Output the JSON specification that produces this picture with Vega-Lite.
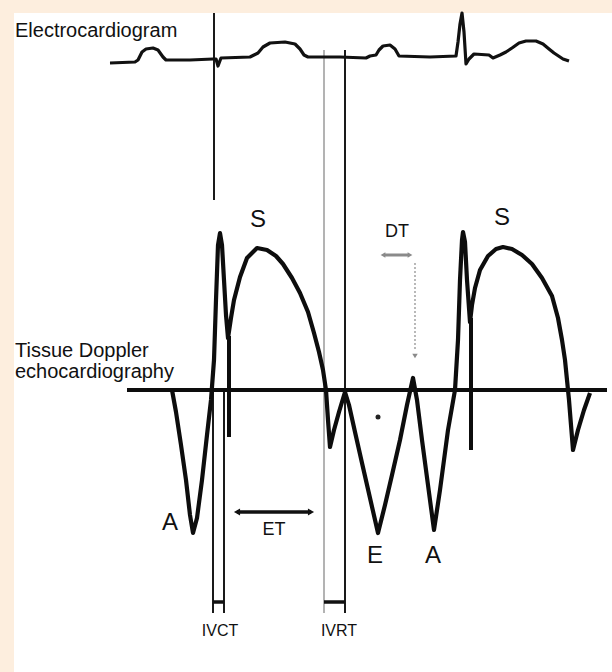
{
  "$schema": "https://vega.github.io/schema/vega-lite/v6.json",
  "width": 598,
  "height": 659,
  "autosize": {"type": "none"},
  "padding": {"left": 14, "top": 13, "right": 0, "bottom": 0},
  "background": "#fdeede",
  "config": {"view": {"stroke": null, "fill": "#ffffff"}},
  "datasets": {
    "ecg": [
      {"i": 1, "x": 110, "y": 63}, {"i": 2, "x": 135, "y": 62}, {"i": 3, "x": 138, "y": 60}, {"i": 4, "x": 142, "y": 52},
      {"i": 5, "x": 146, "y": 49}, {"i": 6, "x": 153, "y": 48}, {"i": 7, "x": 158, "y": 50}, {"i": 8, "x": 163, "y": 57},
      {"i": 9, "x": 166, "y": 60}, {"i": 10, "x": 190, "y": 60}, {"i": 11, "x": 213, "y": 59}, {"i": 12, "x": 216, "y": 59},
      {"i": 13, "x": 218, "y": 66}, {"i": 14, "x": 221, "y": 58}, {"i": 15, "x": 250, "y": 57}, {"i": 16, "x": 254, "y": 55},
      {"i": 17, "x": 258, "y": 53}, {"i": 18, "x": 263, "y": 47}, {"i": 19, "x": 270, "y": 43}, {"i": 20, "x": 285, "y": 42},
      {"i": 21, "x": 295, "y": 44}, {"i": 22, "x": 300, "y": 49}, {"i": 23, "x": 304, "y": 55}, {"i": 24, "x": 308, "y": 57},
      {"i": 25, "x": 340, "y": 57}, {"i": 26, "x": 366, "y": 58}, {"i": 27, "x": 370, "y": 56}, {"i": 28, "x": 376, "y": 55},
      {"i": 29, "x": 379, "y": 50}, {"i": 30, "x": 383, "y": 46}, {"i": 31, "x": 390, "y": 45}, {"i": 32, "x": 395, "y": 49},
      {"i": 33, "x": 399, "y": 56}, {"i": 34, "x": 430, "y": 57}, {"i": 35, "x": 456, "y": 56}, {"i": 36, "x": 458, "y": 42},
      {"i": 37, "x": 460, "y": 24}, {"i": 38, "x": 462, "y": 13}, {"i": 39, "x": 464, "y": 32}, {"i": 40, "x": 466, "y": 64},
      {"i": 41, "x": 469, "y": 59}, {"i": 42, "x": 474, "y": 54}, {"i": 43, "x": 489, "y": 55}, {"i": 44, "x": 493, "y": 58},
      {"i": 45, "x": 500, "y": 55}, {"i": 46, "x": 506, "y": 52}, {"i": 47, "x": 512, "y": 48}, {"i": 48, "x": 519, "y": 43},
      {"i": 49, "x": 526, "y": 41}, {"i": 50, "x": 536, "y": 41}, {"i": 51, "x": 543, "y": 44}, {"i": 52, "x": 549, "y": 49},
      {"i": 53, "x": 554, "y": 53}, {"i": 54, "x": 563, "y": 59}, {"i": 55, "x": 569, "y": 61}
    ],
    "doppler": [
      {"i": 1, "x": 172, "y": 390}, {"i": 2, "x": 176, "y": 412}, {"i": 3, "x": 181, "y": 445}, {"i": 4, "x": 186, "y": 480},
      {"i": 5, "x": 190, "y": 515}, {"i": 6, "x": 193, "y": 533}, {"i": 7, "x": 197, "y": 518}, {"i": 8, "x": 202, "y": 480},
      {"i": 9, "x": 207, "y": 435}, {"i": 10, "x": 211, "y": 400}, {"i": 11, "x": 214, "y": 360}, {"i": 12, "x": 216, "y": 300},
      {"i": 13, "x": 218, "y": 245}, {"i": 14, "x": 220, "y": 233}, {"i": 15, "x": 222, "y": 245}, {"i": 16, "x": 224, "y": 280},
      {"i": 17, "x": 226, "y": 315}, {"i": 18, "x": 228, "y": 338}, {"i": 19, "x": 231, "y": 318}, {"i": 20, "x": 234, "y": 300},
      {"i": 21, "x": 240, "y": 277}, {"i": 22, "x": 247, "y": 258}, {"i": 23, "x": 257, "y": 248}, {"i": 24, "x": 267, "y": 250},
      {"i": 25, "x": 276, "y": 256}, {"i": 26, "x": 283, "y": 264}, {"i": 27, "x": 292, "y": 278}, {"i": 28, "x": 300, "y": 293},
      {"i": 29, "x": 308, "y": 312}, {"i": 30, "x": 314, "y": 333}, {"i": 31, "x": 319, "y": 352}, {"i": 32, "x": 323, "y": 370},
      {"i": 33, "x": 326, "y": 390}, {"i": 34, "x": 328, "y": 420}, {"i": 35, "x": 330, "y": 447}, {"i": 36, "x": 334, "y": 430},
      {"i": 37, "x": 339, "y": 412}, {"i": 38, "x": 345, "y": 392}, {"i": 39, "x": 349, "y": 405}, {"i": 40, "x": 355, "y": 432},
      {"i": 41, "x": 362, "y": 463}, {"i": 42, "x": 370, "y": 498}, {"i": 43, "x": 378, "y": 533}, {"i": 44, "x": 385, "y": 505},
      {"i": 45, "x": 392, "y": 475}, {"i": 46, "x": 400, "y": 440}, {"i": 47, "x": 407, "y": 405}, {"i": 48, "x": 413, "y": 378},
      {"i": 49, "x": 417, "y": 400}, {"i": 50, "x": 422, "y": 440}, {"i": 51, "x": 428, "y": 485}, {"i": 52, "x": 434, "y": 530},
      {"i": 53, "x": 440, "y": 490}, {"i": 54, "x": 448, "y": 430}, {"i": 55, "x": 455, "y": 390}, {"i": 56, "x": 458, "y": 340},
      {"i": 57, "x": 460, "y": 280}, {"i": 58, "x": 462, "y": 240}, {"i": 59, "x": 463, "y": 232}, {"i": 60, "x": 465, "y": 242},
      {"i": 61, "x": 467, "y": 280}, {"i": 62, "x": 470, "y": 322}, {"i": 63, "x": 472, "y": 305}, {"i": 64, "x": 475, "y": 288},
      {"i": 65, "x": 480, "y": 270}, {"i": 66, "x": 488, "y": 256}, {"i": 67, "x": 496, "y": 249}, {"i": 68, "x": 503, "y": 247},
      {"i": 69, "x": 512, "y": 249}, {"i": 70, "x": 522, "y": 255}, {"i": 71, "x": 532, "y": 264}, {"i": 72, "x": 542, "y": 278},
      {"i": 73, "x": 552, "y": 296}, {"i": 74, "x": 558, "y": 318}, {"i": 75, "x": 562, "y": 340}, {"i": 76, "x": 565, "y": 360},
      {"i": 77, "x": 567, "y": 380}, {"i": 78, "x": 569, "y": 400}, {"i": 79, "x": 571, "y": 425}, {"i": 80, "x": 573, "y": 450},
      {"i": 81, "x": 578, "y": 430}, {"i": 82, "x": 584, "y": 410}, {"i": 83, "x": 590, "y": 393}
    ],
    "segments": [
      {"kind": "marker", "x": 214, "y": 13, "x2": 214, "y2": 200},
      {"kind": "marker", "x": 213, "y": 390, "x2": 213, "y2": 613},
      {"kind": "marker", "x": 224, "y": 390, "x2": 224, "y2": 613},
      {"kind": "bar", "x": 213, "y": 602, "x2": 224, "y2": 602},
      {"kind": "faint", "x": 324, "y": 50, "x2": 324, "y2": 613},
      {"kind": "marker", "x": 345, "y": 50, "x2": 345, "y2": 613},
      {"kind": "bar", "x": 324, "y": 602, "x2": 345, "y2": 602},
      {"kind": "stroke", "x": 229, "y": 336, "x2": 229, "y2": 437},
      {"kind": "stroke", "x": 471, "y": 318, "x2": 471, "y2": 450},
      {"kind": "baseline", "x": 127, "y": 390, "x2": 607, "y2": 390},
      {"kind": "ET", "x": 237, "y": 512, "x2": 311, "y2": 512},
      {"kind": "DT", "x": 384, "y": 255, "x2": 409, "y2": 255},
      {"kind": "DTpointer", "x": 415, "y": 263, "x2": 415, "y2": 350}
    ],
    "heads": [
      {"arrow": "ET", "dir": "left", "x": 237, "y": 512},
      {"arrow": "ET", "dir": "right", "x": 311, "y": 512},
      {"arrow": "DT", "dir": "left", "x": 383, "y": 255},
      {"arrow": "DT", "dir": "right", "x": 410, "y": 255},
      {"arrow": "DTpointer", "dir": "down", "x": 415, "y": 356},
      {"arrow": "speck", "dir": "dot", "x": 378, "y": 417}
    ],
    "labels": [
      {"role": "title", "text": "Electrocardiogram", "x": 15, "y": 31},
      {"role": "title", "text": "Tissue Doppler", "x": 15, "y": 351},
      {"role": "title", "text": "echocardiography", "x": 15, "y": 372},
      {"role": "wave", "text": "S", "x": 258, "y": 220},
      {"role": "wave", "text": "S", "x": 502, "y": 218},
      {"role": "wave", "text": "A", "x": 170, "y": 523},
      {"role": "wave", "text": "E", "x": 375, "y": 556},
      {"role": "wave", "text": "A", "x": 433, "y": 556},
      {"role": "interval", "text": "DT", "x": 397, "y": 232},
      {"role": "interval", "text": "ET", "x": 274, "y": 530},
      {"role": "bracket", "text": "IVCT", "x": 220, "y": 631},
      {"role": "bracket", "text": "IVRT", "x": 339, "y": 631}
    ]
  },
  "layer": [
    {
      "data": {"name": "segments"},
      "transform": [{"filter": "datum.kind === 'faint'"}],
      "mark": {"type": "rule", "color": "#9a9a9a", "strokeWidth": 1.5},
      "encoding": {
        "x": {"field": "x", "type": "quantitative", "scale": {"domain": [14, 612], "nice": false, "zero": false}, "axis": null},
        "y": {"field": "y", "type": "quantitative", "scale": {"domain": [13, 672], "nice": false, "zero": false, "reverse": true}, "axis": null},
        "x2": {"field": "x2"},
        "y2": {"field": "y2"}
      }
    },
    {
      "data": {"name": "segments"},
      "transform": [{"filter": "datum.kind === 'marker'"}],
      "mark": {"type": "rule", "color": "#1a1a1a", "strokeWidth": 2},
      "encoding": {
        "x": {"field": "x", "type": "quantitative", "scale": {"domain": [14, 612], "nice": false, "zero": false}, "axis": null},
        "y": {"field": "y", "type": "quantitative", "scale": {"domain": [13, 672], "nice": false, "zero": false, "reverse": true}, "axis": null},
        "x2": {"field": "x2"},
        "y2": {"field": "y2"}
      }
    },
    {
      "data": {"name": "segments"},
      "transform": [{"filter": "datum.kind === 'bar' || datum.kind === 'ET'"}],
      "mark": {"type": "rule", "color": "#111111", "strokeWidth": 3.5},
      "encoding": {
        "x": {"field": "x", "type": "quantitative", "scale": {"domain": [14, 612], "nice": false, "zero": false}, "axis": null},
        "y": {"field": "y", "type": "quantitative", "scale": {"domain": [13, 672], "nice": false, "zero": false, "reverse": true}, "axis": null},
        "x2": {"field": "x2"},
        "y2": {"field": "y2"}
      }
    },
    {
      "data": {"name": "segments"},
      "transform": [{"filter": "datum.kind === 'DT'"}],
      "mark": {"type": "rule", "color": "#8a8a8a", "strokeWidth": 3},
      "encoding": {
        "x": {"field": "x", "type": "quantitative", "scale": {"domain": [14, 612], "nice": false, "zero": false}, "axis": null},
        "y": {"field": "y", "type": "quantitative", "scale": {"domain": [13, 672], "nice": false, "zero": false, "reverse": true}, "axis": null},
        "x2": {"field": "x2"},
        "y2": {"field": "y2"}
      }
    },
    {
      "data": {"name": "segments"},
      "transform": [{"filter": "datum.kind === 'DTpointer'"}],
      "mark": {"type": "rule", "color": "#8a8a8a", "strokeWidth": 1.2, "strokeDash": [2, 2]},
      "encoding": {
        "x": {"field": "x", "type": "quantitative", "scale": {"domain": [14, 612], "nice": false, "zero": false}, "axis": null},
        "y": {"field": "y", "type": "quantitative", "scale": {"domain": [13, 672], "nice": false, "zero": false, "reverse": true}, "axis": null},
        "x2": {"field": "x2"},
        "y2": {"field": "y2"}
      }
    },
    {
      "data": {"name": "segments"},
      "transform": [{"filter": "datum.kind === 'baseline' || datum.kind === 'stroke'"}],
      "mark": {"type": "rule", "color": "#0d0d0d", "strokeWidth": 4},
      "encoding": {
        "x": {"field": "x", "type": "quantitative", "scale": {"domain": [14, 612], "nice": false, "zero": false}, "axis": null},
        "y": {"field": "y", "type": "quantitative", "scale": {"domain": [13, 672], "nice": false, "zero": false, "reverse": true}, "axis": null},
        "x2": {"field": "x2"},
        "y2": {"field": "y2"}
      }
    },
    {
      "data": {"name": "ecg"},
      "mark": {"type": "line", "color": "#111111", "strokeWidth": 3.2, "strokeJoin": "round"},
      "encoding": {
        "x": {"field": "x", "type": "quantitative", "scale": {"domain": [14, 612], "nice": false, "zero": false}, "axis": null},
        "y": {"field": "y", "type": "quantitative", "scale": {"domain": [13, 672], "nice": false, "zero": false, "reverse": true}, "axis": null},
        "order": {"field": "i", "type": "quantitative"}
      }
    },
    {
      "data": {"name": "doppler"},
      "mark": {"type": "line", "color": "#0d0d0d", "strokeWidth": 4.2, "strokeJoin": "round"},
      "encoding": {
        "x": {"field": "x", "type": "quantitative", "scale": {"domain": [14, 612], "nice": false, "zero": false}, "axis": null},
        "y": {"field": "y", "type": "quantitative", "scale": {"domain": [13, 672], "nice": false, "zero": false, "reverse": true}, "axis": null},
        "order": {"field": "i", "type": "quantitative"}
      }
    },
    {
      "data": {"name": "heads"},
      "transform": [{"filter": "datum.arrow === 'ET'"}],
      "mark": {"type": "point", "filled": true, "color": "#111111", "size": 50, "opacity": 1},
      "encoding": {
        "x": {"field": "x", "type": "quantitative", "scale": {"domain": [14, 612], "nice": false, "zero": false}, "axis": null},
        "y": {"field": "y", "type": "quantitative", "scale": {"domain": [13, 672], "nice": false, "zero": false, "reverse": true}, "axis": null},
        "shape": {"field": "dir", "type": "nominal", "scale": {"domain": ["left", "right", "down", "dot"], "range": ["triangle-left", "triangle-right", "triangle-down", "circle"]}, "legend": null}
      }
    },
    {
      "data": {"name": "heads"},
      "transform": [{"filter": "datum.arrow === 'DT' || datum.arrow === 'DTpointer'"}],
      "mark": {"type": "point", "filled": true, "color": "#8a8a8a", "size": 30, "opacity": 1},
      "encoding": {
        "x": {"field": "x", "type": "quantitative", "scale": {"domain": [14, 612], "nice": false, "zero": false}, "axis": null},
        "y": {"field": "y", "type": "quantitative", "scale": {"domain": [13, 672], "nice": false, "zero": false, "reverse": true}, "axis": null},
        "shape": {"field": "dir", "type": "nominal", "scale": {"domain": ["left", "right", "down", "dot"], "range": ["triangle-left", "triangle-right", "triangle-down", "circle"]}, "legend": null}
      }
    },
    {
      "data": {"name": "heads"},
      "transform": [{"filter": "datum.arrow === 'speck'"}],
      "mark": {"type": "point", "filled": true, "color": "#222222", "size": 25, "opacity": 1},
      "encoding": {
        "x": {"field": "x", "type": "quantitative", "scale": {"domain": [14, 612], "nice": false, "zero": false}, "axis": null},
        "y": {"field": "y", "type": "quantitative", "scale": {"domain": [13, 672], "nice": false, "zero": false, "reverse": true}, "axis": null}
      }
    },
    {
      "data": {"name": "labels"},
      "transform": [{"filter": "datum.role === 'title'"}],
      "mark": {"type": "text", "align": "left", "baseline": "middle", "font": "Liberation Sans", "fontSize": 20, "color": "#111111"},
      "encoding": {
        "x": {"field": "x", "type": "quantitative", "scale": {"domain": [14, 612], "nice": false, "zero": false}, "axis": null},
        "y": {"field": "y", "type": "quantitative", "scale": {"domain": [13, 672], "nice": false, "zero": false, "reverse": true}, "axis": null},
        "text": {"field": "text"}
      }
    },
    {
      "data": {"name": "labels"},
      "transform": [{"filter": "datum.role === 'wave'"}],
      "mark": {"type": "text", "align": "center", "baseline": "middle", "font": "Liberation Sans", "fontSize": 24, "color": "#111111"},
      "encoding": {
        "x": {"field": "x", "type": "quantitative", "scale": {"domain": [14, 612], "nice": false, "zero": false}, "axis": null},
        "y": {"field": "y", "type": "quantitative", "scale": {"domain": [13, 672], "nice": false, "zero": false, "reverse": true}, "axis": null},
        "text": {"field": "text"}
      }
    },
    {
      "data": {"name": "labels"},
      "transform": [{"filter": "datum.role === 'interval'"}],
      "mark": {"type": "text", "align": "center", "baseline": "middle", "font": "Liberation Sans", "fontSize": 18, "color": "#111111"},
      "encoding": {
        "x": {"field": "x", "type": "quantitative", "scale": {"domain": [14, 612], "nice": false, "zero": false}, "axis": null},
        "y": {"field": "y", "type": "quantitative", "scale": {"domain": [13, 672], "nice": false, "zero": false, "reverse": true}, "axis": null},
        "text": {"field": "text"}
      }
    },
    {
      "data": {"name": "labels"},
      "transform": [{"filter": "datum.role === 'bracket'"}],
      "mark": {"type": "text", "align": "center", "baseline": "middle", "font": "Liberation Sans", "fontSize": 16, "color": "#111111"},
      "encoding": {
        "x": {"field": "x", "type": "quantitative", "scale": {"domain": [14, 612], "nice": false, "zero": false}, "axis": null},
        "y": {"field": "y", "type": "quantitative", "scale": {"domain": [13, 672], "nice": false, "zero": false, "reverse": true}, "axis": null},
        "text": {"field": "text"}
      }
    }
  ]
}
